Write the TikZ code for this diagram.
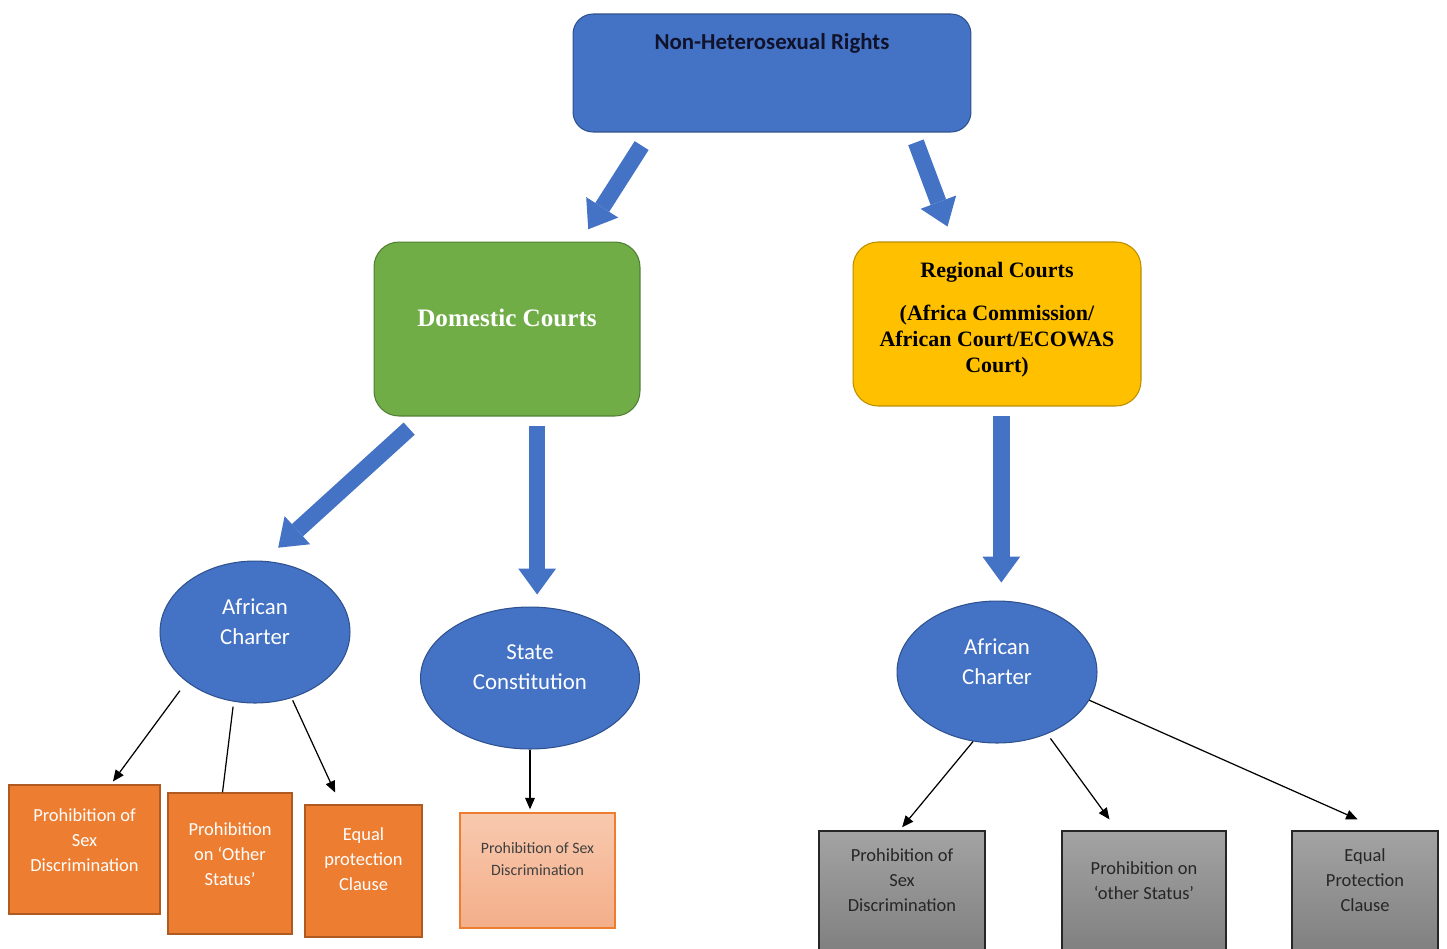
\documentclass[tikz,border=0pt]{standalone}
\usepackage{fontspec}
\setmainfont{Carlito}
\newfontfamily\headserif{Liberation Serif}
\usetikzlibrary{shapes.geometric, arrows.meta, positioning, calc}

\definecolor{nhblue}{HTML}{4472C4}
\definecolor{nhblueline}{HTML}{2F528F}
\definecolor{domgreen}{HTML}{70AD47}
\definecolor{domgreenline}{HTML}{507E32}
\definecolor{reggold}{HTML}{FFC000}
\definecolor{reggoldline}{HTML}{BC8C00}
\definecolor{ruleorange}{HTML}{ED7D31}
\definecolor{ruleorangeline}{HTML}{AE5A21}
\definecolor{peachtop}{HTML}{F8C9AE}
\definecolor{peachbot}{HTML}{F4AE8A}
\definecolor{graytop}{HTML}{A3A3A3}
\definecolor{graybot}{HTML}{7B7B7B}
\definecolor{titleink}{HTML}{10132B}

\begin{document}
\begin{tikzpicture}[
    x=0.02cm, y=-0.02cm,
    rights/.style={rectangle, draw=nhblueline, fill=nhblue, rounded corners=0.4cm, line width=0.6pt, text=titleink, font=\fontsize{13}{15.5}\selectfont\bfseries},
    court/.style={rectangle, rounded corners=0.5cm, line width=0.6pt, align=center},
    charter/.style={ellipse, draw=nhblueline, fill=nhblue, line width=0.6pt, inner sep=0pt, text=white, align=center, minimum height=2.84cm, font=\fontsize{13}{17}\selectfont},
    rulebox/.style={rectangle, draw=ruleorangeline, fill=ruleorange, line width=0.8pt, text=white, align=center, font=\fontsize{10.5}{14.2}\selectfont},
    statebox/.style={rectangle, draw=ruleorange, top color=peachtop, bottom color=peachbot, line width=0.8pt, text=black!75, align=center, font=\fontsize{9}{12.5}\selectfont},
    regbox/.style={rectangle, draw=black!85, top color=graytop, bottom color=graybot, line width=0.8pt, text=black!85, align=center, minimum height=2.74cm, font=\fontsize{10.5}{14.2}\selectfont},
    bigarrow/.style={draw=nhblue, line width=0.33cm, -{Triangle[width=0.76cm, length=0.52cm, line width=0pt]}},
    thinarrow/.style={draw, line width=0.7pt, -{Triangle[width=5.5pt, length=6.5pt]}},
    thinline/.style={draw, line width=0.7pt}
]
\useasboundingbox (0,0) rectangle (1447,948);
\clip (0,0) rectangle (1447,948);

% Top of the tree
\node[rights, minimum width=7.96cm, minimum height=2.36cm, text height=9pt, text depth=35.6pt] (nhr) at (772,73) {Non-Heterosexual Rights};

% Courts
\node[court, fill=domgreen, draw=domgreenline, text=white, minimum width=5.32cm, minimum height=3.48cm, font=\headserif\bfseries\fontsize{14.3}{17}\selectfont, text height=9.6pt, text depth=12.4pt] (dom) at (507,329) {Domestic Courts};
\node[court, fill=reggold, draw=reggoldline, minimum width=5.76cm, minimum height=3.28cm, font=\headserif\bfseries\fontsize{12.5}{14.7}\selectfont] (reg) at (997,324) {Regional Courts\\[9.6pt](Africa Commission/\\African Court/ECOWAS\\Court)\\[-7.3pt]\mbox{}};

% Instruments
\node[charter, minimum width=3.8cm] (dch) at (255,632) {African\\Charter\\[-4.9pt]\mbox{}};
\node[charter, minimum width=4.38cm] (stc) at (530,678) {State\\Constitution\\[-4.9pt]\mbox{}};
\node[charter, minimum width=4.0cm] (rch) at (997,672) {African\\Charter\\[-4.9pt]\mbox{}};

% Grounds before domestic courts
\node[rulebox, minimum width=3.02cm, minimum height=2.58cm] (dsex) at (84.5,849.5) {Prohibition of\\Sex\\Discrimination\\[-3.5pt]\mbox{}};
\node[rulebox, minimum width=2.48cm, minimum height=2.82cm] (dother) at (230,863.5) {Prohibition\\on ‘Other\\Status’\\[-3.5pt]\mbox{}};
\node[rulebox, minimum width=2.34cm, minimum height=2.64cm] (deq) at (363.5,871) {Equal\\protection\\Clause\\[-0.7pt]\mbox{}};
\node[statebox, minimum width=3.1cm, minimum height=2.3cm] (ssex) at (537.5,870.5) {Prohibition of Sex\\Discrimination\\[0.2pt]\mbox{}};

% Grounds before regional courts
\node[regbox, minimum width=3.32cm] (rsex) at (902,899.5) {Prohibition of\\Sex\\Discrimination\\[7.7pt]\mbox{}};
\node[regbox, minimum width=3.28cm] (rother) at (1144,899.5) {Prohibition on\\‘other Status’\\[7.3pt]\mbox{}};
\node[regbox, minimum width=2.92cm] (req) at (1365,899.5) {Equal\\Protection\\Clause\\[7.7pt]\mbox{}};

% Block arrows
\draw[bigarrow, shorten <=0.31cm, shorten >=0.29cm] (nhr.-154) -- (dom.50);
\draw[bigarrow, shorten <=0.21cm, shorten >=0.32cm] (nhr.-23) -- (reg.118);
\draw[bigarrow, shorten <=0.36cm, shorten >=0.39cm] (dom.226) -- (dch.83);
\draw[bigarrow, shorten <=0.18cm, shorten >=0.24cm] (dom.-71) -- (dom.-71 |- stc.north);
\draw[bigarrow, shorten <=0.18cm, shorten >=0.36cm] (reg.-87) -- (reg.-87 |- rch.north);

% Thin connectors
\draw[thinarrow, shorten <=0.22cm, shorten >=0.07cm] (dch.216) -- (dsex.68);
\draw[thinline, shorten <=0.1cm] (dch.253) -- (dother.96);
\draw[thinarrow, shorten <=0.05cm, shorten >=0.26cm] (dch.-61) -- (deq.109);
\draw[thinarrow, shorten >=0.06cm] (stc.south) -- (stc.south |- ssex.north);
\draw[thinarrow, shorten >=0.08cm] (rch.251) -- (rsex.92);
\draw[thinarrow, shorten <=0.11cm, shorten >=0.27cm] (rch.-51) -- (rother.111);
\draw[thinarrow, shorten >=0.54cm] (rch.-17) -- (req.76);

\end{tikzpicture}
\end{document}
